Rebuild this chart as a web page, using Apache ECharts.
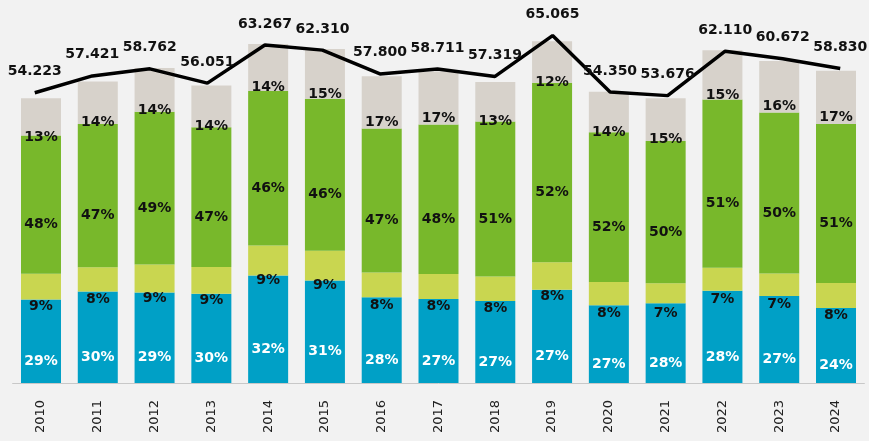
<!DOCTYPE html>
<html>
<head>
<meta charset="utf-8">
<script src="https://cdn.jsdelivr.net/npm/echarts@6/dist/echarts.min.js"></script>
<style>
  html, body { margin: 0; padding: 0; background: #f2f2f2; }
  #chart { width: 869px; height: 441px; }
</style>
</head>
<body>
<div id="chart"></div>
<script>
// years on the x axis
const years = ['2010', '2011', '2012', '2013', '2014', '2015', '2016', '2017', '2018', '2019', '2020', '2021', '2022', '2023', '2024']

// total per year (black line)
const totals = [54.223, 57.421, 58.762, 56.051, 63.267, 62.310, 57.800, 58.711, 57.319, 65.065, 54.350, 53.676, 62.110, 60.672, 58.830]

// share of each segment, in %
const bluePct = [29, 30, 29, 30, 32, 31, 28, 27, 27, 27, 27, 28, 28, 27, 24]
const yellowPct = [9, 8, 9, 9, 9, 9, 8, 8, 8, 8, 8, 7, 7, 7, 8]
const greenPct = [48, 47, 49, 47, 46, 46, 47, 48, 51, 52, 52, 50, 51, 50, 51]
const grayPct = [13, 14, 14, 14, 14, 15, 17, 17, 13, 12, 14, 15, 15, 16, 17]

const FONT = 'DejaVu Sans'

// segment value = total * share
function segment(pcts) {
  return pcts.map((p, i) => ({ value: totals[i] * p / 100, pct: p }))
}

function barSeries(name, pcts, color, labelColor) {
  return {
    name: name,
    type: 'bar',
    stack: 'total',
    barWidth: 40,
    data: segment(pcts),
    itemStyle: { color: color },
    label: {
      show: true,
      position: 'inside',
      offset: [0, 20],
      color: labelColor,
      fontFamily: FONT,
      fontWeight: 'bold',
      fontSize: 14,
      textBorderWidth: 0,
      formatter: (p) => p.data.pct + '%'
    }
  }
}

const chart = echarts.init(document.getElementById('chart'))

const option = {
  backgroundColor: '#f2f2f2',
  animation: false,
  grid: [
    { left: 12.6, right: 4.6, top: 1, bottom: 58 },
    { left: 6, right: 0, top: 9.6, bottom: 62.5 }
  ],
  xAxis: [
    {
      type: 'category',
      gridIndex: 0,
      data: years,
      axisLine: { lineStyle: { color: '#c8c8c8', width: 1 } },
      axisTick: { show: false },
      axisLabel: {
        rotate: 90,
        margin: 17,
        color: '#222',
        fontFamily: FONT,
        fontSize: 13
      }
    },
    {
      type: 'category',
      gridIndex: 1,
      data: years,
      show: false
    }
  ],
  yAxis: [
    { type: 'value', gridIndex: 0, min: 0, max: 72, show: false, splitLine: { show: false } },
    { type: 'value', gridIndex: 1, min: 0, max: 70, show: false, splitLine: { show: false } }
  ],
  series: [
    barSeries('blue', bluePct, '#00a0c6', '#ffffff'),
    barSeries('yellow', yellowPct, '#c9d650', '#111111'),
    barSeries('green', greenPct, '#78b82b', '#111111'),
    barSeries('gray', grayPct, '#d7d2cb', '#111111'),
    {
      name: 'total',
      type: 'line',
      xAxisIndex: 1,
      yAxisIndex: 1,
      data: totals,
      symbol: 'circle',
      symbolSize: 0.1,
      showSymbol: true,
      itemStyle: { color: '#000000' },
      lineStyle: { color: '#000000', width: 3.5 },
      z: 10,
      label: {
        show: true,
        position: 'top',
        distance: 14,
        color: '#111111',
        fontFamily: FONT,
        fontWeight: 'bold',
        fontSize: 14,
        formatter: (p) => p.value.toFixed(3)
      }
    }
  ]
}

chart.setOption(option)
</script>
</body>
</html>
